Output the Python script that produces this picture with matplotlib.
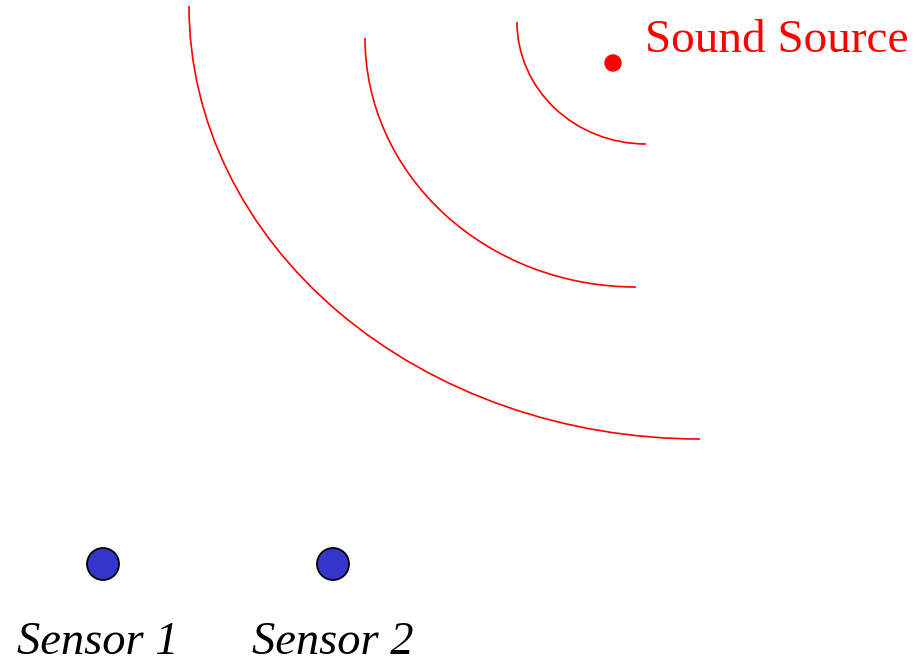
import numpy as np
import matplotlib
matplotlib.use('Agg')
import matplotlib.pyplot as plt
from matplotlib.patches import Arc, Circle

# wave fronts: quarter ellipses (centre x, centre y, radius x, radius y) in pixels
wave_cx = [646, 636, 700]
wave_cy = [22, 38, 6]
wave_rx = [129, 271, 511]
wave_ry = [122, 249, 433]

source_xy = (613, 63)
sensor_x = [103, 333]
sensor_y = [564, 564]
sensor_names = ['Sensor 1', 'Sensor 2']
label_x = [17, 252]

fig = plt.figure(figsize=(9.16, 6.63), dpi=100)
ax = fig.add_axes([0, 0, 1, 1])
ax.set_xlim(0, 916)
ax.set_ylim(663, 0)
ax.axis('off')

for cx, cy, rx, ry in zip(wave_cx, wave_cy, wave_rx, wave_ry):
    ax.add_patch(Arc((cx, cy), 2 * rx, 2 * ry, theta1=90, theta2=180,
                     color='red', lw=1.2))

ax.add_patch(Circle(source_xy, 8, color='red'))
ax.text(645, 52, 'Sound Source', color='red', fontsize=34,
        family='Liberation Serif', ha='left', va='baseline')

for x, y, lx, name in zip(sensor_x, sensor_y, label_x, sensor_names):
    ax.add_patch(Circle((x, y), 16, facecolor='#3535cc', edgecolor='black', lw=1.3))
    ax.text(lx, 654, name, fontsize=33.5, family='Liberation Serif',
            style='italic', ha='left', va='baseline')

fig.savefig('out.png', dpi=100)
